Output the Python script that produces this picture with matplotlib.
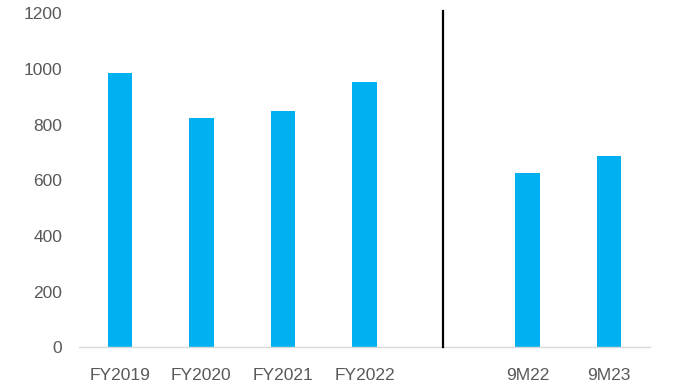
import matplotlib.pyplot as plt

# values
labels = ['FY2019', 'FY2020', 'FY2021', 'FY2022', '', '9M22', '9M23']
values = [985, 823, 849, 952, None, 628, 688]
yticks = [0, 200, 400, 600, 800, 1000, 1200]

bar_color = '#00B0F0'
text_color = '#595959'

plt.rcParams['font.family'] = ['Liberation Sans', 'DejaVu Sans']

fig = plt.figure(figsize=(6.78, 3.88), dpi=100)
ax = fig.add_axes([0.1165, 0.1044, 0.8422, 0.8613])

pos = [i for i, v in enumerate(values) if v is not None]
vals = [v for v in values if v is not None]
ax.bar(pos, vals, width=0.3, color=bar_color, zorder=2)

# divider between full years and nine-month figures (sits a touch left of the empty slot)
gap = labels.index('') - 0.04
ax.plot([gap, gap], [0, 1210], color='black', lw=1.6, clip_on=False, zorder=3)

ax.set_xlim(-0.5, len(labels) - 0.5)
ax.set_ylim(0, 1200)
ax.set_xticks(range(len(labels)))
ax.set_xticklabels(labels)
ax.set_yticks(yticks)

for s in ['top', 'right', 'left']:
    ax.spines[s].set_visible(False)
ax.spines['bottom'].set_color('#D9D9D9')
ax.spines['bottom'].set_linewidth(1)

ax.tick_params(axis='x', length=0, pad=15, labelsize=12.5, colors=text_color)
ax.tick_params(axis='y', length=0, pad=12, labelsize=12.5, colors=text_color)

fig.savefig('out.png', dpi=100)
